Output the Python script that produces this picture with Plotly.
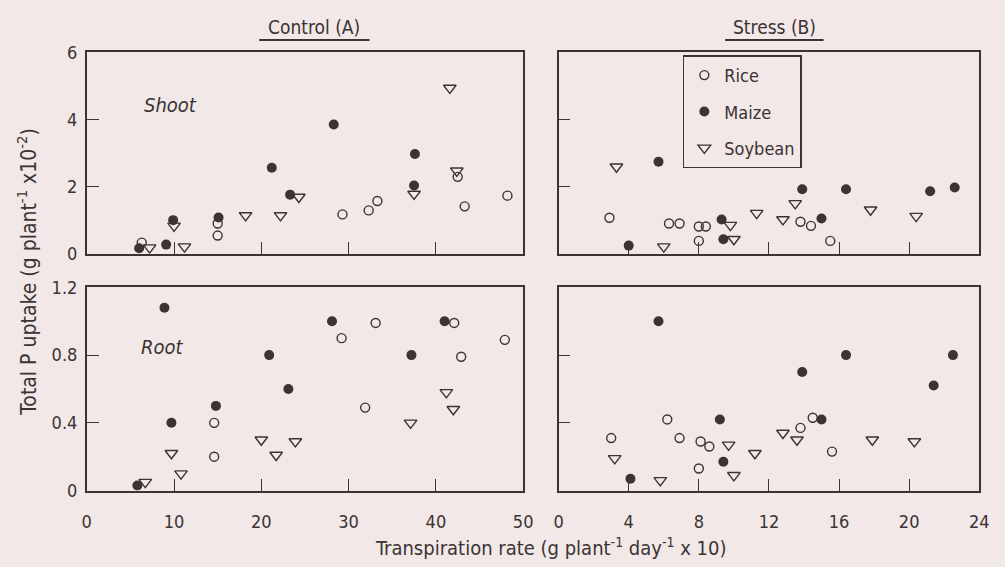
import plotly.graph_objects as go

# ---- data: transpiration rate (x) and total P uptake (y) ----
# Control (A), shoot
ctl_shoot_rice_x = [6.3, 15.0, 15.0, 29.3, 32.3, 33.3, 42.5, 43.3, 48.2]
ctl_shoot_rice_y = [0.33, 0.90, 0.54, 1.17, 1.29, 1.57, 2.29, 1.41, 1.73]
ctl_shoot_maize_x = [6.0, 9.1, 9.9, 15.1, 21.2, 23.3, 28.3, 37.6, 37.5]
ctl_shoot_maize_y = [0.16, 0.27, 1.00, 1.08, 2.56, 1.76, 3.85, 2.97, 2.03]
ctl_shoot_soy_x = [7.2, 10.0, 11.2, 18.2, 22.2, 24.3, 37.5, 41.6, 42.4]
ctl_shoot_soy_y = [0.18, 0.83, 0.21, 1.14, 1.14, 1.69, 1.78, 4.94, 2.47]

# Stress (B), shoot
str_shoot_rice_x = [2.9, 6.3, 6.9, 8.0, 8.4, 8.0, 13.8, 14.4, 15.5]
str_shoot_rice_y = [1.07, 0.90, 0.90, 0.81, 0.81, 0.38, 0.95, 0.83, 0.38]
str_shoot_maize_x = [4.0, 5.7, 9.3, 9.4, 13.9, 15.0, 16.4, 21.2, 22.6]
str_shoot_maize_y = [0.24, 2.74, 1.02, 0.43, 1.92, 1.05, 1.92, 1.86, 1.97]
str_shoot_soy_x = [3.3, 6.0, 9.8, 10.0, 11.3, 12.8, 13.5, 17.8, 20.4]
str_shoot_soy_y = [2.59, 0.21, 0.85, 0.43, 1.21, 1.02, 1.50, 1.31, 1.12]

# Control (A), root
ctl_root_rice_x = [14.6, 14.6, 29.2, 33.1, 31.9, 42.1, 42.9, 47.9]
ctl_root_rice_y = [0.40, 0.20, 0.90, 0.99, 0.49, 0.99, 0.79, 0.89]
ctl_root_maize_x = [5.8, 8.9, 9.7, 14.8, 20.9, 23.1, 28.1, 37.2, 41.0]
ctl_root_maize_y = [0.03, 1.08, 0.40, 0.50, 0.80, 0.60, 1.00, 0.80, 1.00]
ctl_root_soy_x = [6.7, 9.7, 10.8, 20.0, 21.7, 23.9, 37.1, 41.2, 42.0]
ctl_root_soy_y = [0.05, 0.22, 0.10, 0.30, 0.21, 0.29, 0.40, 0.58, 0.48]

# Stress (B), root
str_root_rice_x = [3.0, 6.2, 6.9, 8.1, 8.6, 8.0, 13.8, 14.5, 15.6]
str_root_rice_y = [0.31, 0.42, 0.31, 0.29, 0.26, 0.13, 0.37, 0.43, 0.23]
str_root_maize_x = [4.1, 5.7, 9.2, 9.4, 13.9, 15.0, 16.4, 21.4, 22.5]
str_root_maize_y = [0.07, 1.00, 0.42, 0.17, 0.70, 0.42, 0.80, 0.62, 0.80]
str_root_soy_x = [3.2, 5.8, 9.7, 10.0, 11.2, 12.8, 13.6, 17.9, 20.3]
str_root_soy_y = [0.19, 0.06, 0.27, 0.09, 0.22, 0.34, 0.30, 0.30, 0.29]

species = ["Rice", "Maize", "Soybean"]

INK = "#3b3334"
BG = "#f1e8e7"
FONT = "Liberation Sans Narrow, DejaVu Sans Condensed, Roboto Condensed, DejaVu Sans, sans-serif"

marker_styles = {
    "Rice": dict(symbol="circle-open", size=9, color=INK, line=dict(width=1.4, color=INK)),
    "Maize": dict(symbol="circle", size=10, color=INK, line=dict(width=0)),
    "Soybean": dict(symbol="triangle-down-open", size=11, color=INK, line=dict(width=1.4, color=INK)),
}

panels = [
    ("x", "y", [(ctl_shoot_rice_x, ctl_shoot_rice_y), (ctl_shoot_maize_x, ctl_shoot_maize_y), (ctl_shoot_soy_x, ctl_shoot_soy_y)]),
    ("x2", "y2", [(str_shoot_rice_x, str_shoot_rice_y), (str_shoot_maize_x, str_shoot_maize_y), (str_shoot_soy_x, str_shoot_soy_y)]),
    ("x3", "y3", [(ctl_root_rice_x, ctl_root_rice_y), (ctl_root_maize_x, ctl_root_maize_y), (ctl_root_soy_x, ctl_root_soy_y)]),
    ("x4", "y4", [(str_root_rice_x, str_root_rice_y), (str_root_maize_x, str_root_maize_y), (str_root_soy_x, str_root_soy_y)]),
]

fig = go.Figure()
for p, (xa, ya, series) in enumerate(panels):
    for name, (xs, ys) in zip(species, series):
        fig.add_trace(go.Scatter(
            x=xs, y=ys, mode="markers", name=name,
            marker=marker_styles[name],
            xaxis=xa, yaxis=ya,
            legendgroup=name, showlegend=(p == 1),
        ))

W, H = 1005, 567
left_dom = [83 / W, 526 / W]
right_dom = [562 / W, 989 / W]
top_dom = [1 - 252 / H, 1 - 43 / H]
bot_dom = [1 - 498 / H, 1 - 287 / H]

axis_common = dict(
    showline=True, mirror=True, linecolor=INK, linewidth=1.6,
    showgrid=False, zeroline=False,
    ticks="inside", ticklen=12, tickwidth=1.4, tickcolor=INK,
    tickfont=dict(family=FONT, size=18, color=INK),
    fixedrange=True,
)
x_lab = dict(ticklabelstandoff=14)

fig.update_layout(
    width=W, height=H,
    margin=dict(l=0, r=0, t=0, b=0),
    paper_bgcolor=BG, plot_bgcolor=BG,
    font=dict(family=FONT, color=INK),
    xaxis=dict(domain=left_dom, range=[0, 50], tickvals=[10, 20, 30, 40], showticklabels=False, anchor="y", **axis_common),
    yaxis=dict(domain=top_dom, range=[0, 6], tickvals=[0, 2, 4, 6], ticktext=["0", "2", "4", "6"], anchor="x", ticklabelstandoff=4, **axis_common),
    xaxis2=dict(domain=right_dom, range=[0, 24], tickvals=[4, 8, 12, 16, 20], showticklabels=False, anchor="y2", **axis_common),
    yaxis2=dict(domain=top_dom, range=[0, 6], tickvals=[2, 4], showticklabels=False, anchor="x2", **axis_common),
    xaxis3=dict(domain=left_dom, range=[0, 50], tickvals=[0, 10, 20, 30, 40, 50], anchor="y3", **x_lab, **axis_common),
    yaxis3=dict(domain=bot_dom, range=[0, 1.2], tickvals=[0, 0.4, 0.8, 1.2], ticktext=["0", "0.4", "0.8", "1.2"], anchor="x3", ticklabelstandoff=4, **axis_common),
    xaxis4=dict(domain=right_dom, range=[0, 24], tickvals=[0, 4, 8, 12, 16, 20, 24], anchor="y4", **x_lab, **axis_common),
    yaxis4=dict(domain=bot_dom, range=[0, 1.2], tickvals=[0.4, 0.8], showticklabels=False, anchor="x4", **axis_common),
    legend=dict(
        x=688 / W, y=1 - 46 / H, xanchor="left", yanchor="top",
        bordercolor=INK, borderwidth=1.6, bgcolor=BG,
        font=dict(family=FONT, size=18, color=INK),
        traceorder="grouped", tracegroupgap=10,
        itemwidth=30,
    ),
)

annotations = [
    dict(text="Control (A)", x=314 / W, y=1 - 17 / H, font=dict(size=19)),
    dict(text="Stress (B)", x=781 / W, y=1 - 17 / H, font=dict(size=19)),
    dict(text="<i>Shoot</i>", x=168 / W, y=1 - 98 / H, font=dict(size=20)),
    dict(text="<i>Root</i>", x=160 / W, y=1 - 349 / H, font=dict(size=20)),
    dict(text="Transpiration rate (g plant<sup>-1</sup> day<sup>-1</sup> x 10)", x=554 / W, y=1 - 557 / H, font=dict(size=20)),
    dict(text="Total P uptake (g plant<sup>-1</sup> x10<sup>-2</sup>)", x=22 / W, y=1 - 271 / H, textangle=-90, font=dict(size=21)),
]
for a in annotations:
    a.update(xref="paper", yref="paper", showarrow=False, xanchor="center", yanchor="middle")
    a["font"].update(family=FONT, color=INK)
    fig.add_annotation(**a)

# underlines beneath the panel titles
for x0, x1 in [(258, 370), (731, 831)]:
    fig.add_shape(type="line", xref="paper", yref="paper",
                  x0=x0 / W, x1=x1 / W, y0=1 - 30 / H, y1=1 - 30 / H,
                  line=dict(color=INK, width=2))

fig.write_html("out.html")
